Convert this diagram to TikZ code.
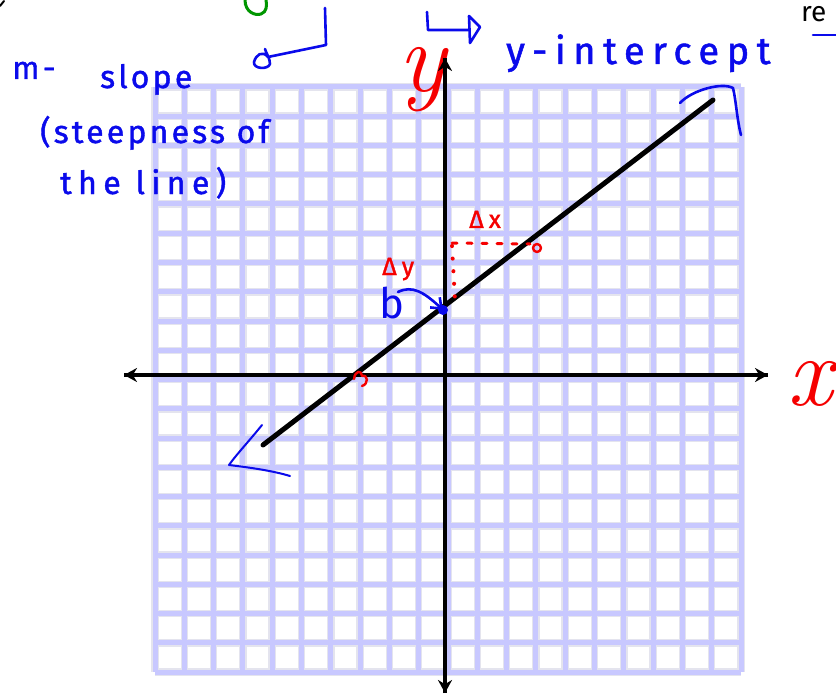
\documentclass[tikz,border=0pt]{standalone}
\usepackage{fontspec}
\newfontfamily\hand[LetterSpace=10,FakeBold=1.3]{Fira Sans}
\newfontfamily\handwide[LetterSpace=20,FakeBold=1.3]{Fira Sans}
\newfontfamily\plainsans{Fira Sans}
\usetikzlibrary{arrows.meta}
\definecolor{gridc}{RGB}{200,200,255}
\definecolor{gridedge}{RGB}{228,228,238}
\definecolor{bluepen}{RGB}{10,10,235}
\definecolor{redpen}{RGB}{245,0,0}
\definecolor{greenpen}{RGB}{0,150,0}
\tikzset{
  gridline/.style={draw=gridc,line width=5pt},
  gridshade/.style={draw=gridedge,line width=7.5pt},
  axis/.style={draw=black,line width=4pt,-{Stealth[length=13pt,width=14pt]}},
  mainline/.style={draw=black,line width=5pt,line cap=round},
  bstroke/.style={draw=bluepen,line width=2.6pt,line cap=round,line join=round},
  rstroke/.style={draw=redpen,line width=2.4pt,line cap=round,line join=round},
  gstroke/.style={draw=greenpen,line width=3pt,line cap=round},
  bluetext/.style={text=bluepen,inner sep=0pt,font=\hand\fontsize{32}{34}\selectfont},
  redtext/.style={text=redpen,inner sep=0pt,font=\handwide\fontsize{25}{27}\selectfont},
  bigred/.style={text=redpen,inner sep=0pt,font=\rmfamily\itshape\fontsize{100}{100}\selectfont},
}
\begin{document}
\begin{tikzpicture}[x=1pt,y=-1pt]
\useasboundingbox[fill=white] (0,0) rectangle (836,698);
% grid
\fill[white] (155,87) rectangle (741,672);
\foreach \i in {0,...,20}{
  \draw[gridshade] ({155+29.3*\i},87) -- ({155+29.3*\i},672);
  \draw[gridshade] (155,{87+29.25*\i}) -- (741,{87+29.25*\i});
}
\foreach \i in {0,...,20}{
  \draw[gridline] ({155+29.3*\i},87) -- ({155+29.3*\i},672);
  \draw[gridline] (155,{87+29.25*\i}) -- (741,{87+29.25*\i});
}
% axis labels (under the axes)
\node[bigred,anchor=base] (xlab) at (810,405) {x};
\node[bigred,anchor=base] (ylab) at (422,92) {y};
% axes
\coordinate (xl) at (124,375);
\coordinate (xr) at (768,375);
\coordinate (yt) at (445,58);
\coordinate (yb) at (445,693);
\draw[axis] (xl) -- (xr);
\draw[axis] (xr) -- (xl);
\draw[axis] (yb) -- (yt);
\draw[axis] (yt) -- (yb);
% the line
\coordinate (l1) at (263,445);
\coordinate (l2) at (713,100);
\draw[mainline] (l1) -- (l2);
% blue hand arrowheads at line ends
\draw[bstroke] (680,103) .. controls (692,90) and (722,82) .. (733,88) .. controls (736,100) and (737,120) .. (741,135);
\draw[bstroke,line width=2pt] (262,425) .. controls (250,440) and (236,455) .. (229,465) .. controls (245,467) and (270,470) .. (290,476);
% red dotted rise/run
\draw[rstroke,line width=4pt,dash pattern=on 0.1pt off 12.5pt] (452,246) -- (455,300);
\draw[rstroke,line width=3pt,dash pattern=on 5pt off 10pt] (452,243) -- (530,244);
\draw[rstroke] (537,248) circle (4);
% red x-intercept mark
\draw[rstroke] (354,379) .. controls (355,370) and (362,370) .. (362,376) .. controls (368,374) and (369,384) .. (362,386);
% labels Delta
\node[redtext,anchor=base west] (dx) at (469,228) {Δx};
\node[redtext,anchor=base west] (dy) at (382,275) {Δy};
% y-intercept point and b
\coordinate (bdot) at (443,310);
\fill[bluepen] (bdot) circle (5);
\node[text=bluepen,inner sep=0pt,anchor=base west,font=\plainsans\fontsize{42}{42}\selectfont] (b) at (379,318) {b};
\draw[bstroke,-{Straight Barb[length=9pt,width=14pt]}] (398,292) .. controls (412,285) and (424,292) .. (bdot);
% blue text
\node[bluetext,anchor=base west] (m) at (12,79) {m-};
\node[bluetext,anchor=base west] (slope) at (100,88) {slope};
\node[bluetext,anchor=base west] (steep) at (40,143) {(steepness of};
\node[bluetext,anchor=base west,font=\handwide\fontsize{32}{34}\selectfont] (theline) at (60,194) {the line)};
\node[bluetext,anchor=base west,font=\handwide\fontsize{38}{40}\selectfont] (yint) at (506,64) {y-intercept};
% hook arrow pointing to slope text
\draw[bstroke] (325,8) -- (326,45) -- (268,57) .. controls (262,50) and (256,55) .. (254,62) .. controls (253,69) and (268,70) .. (270,64) .. controls (270,58) and (266,53) .. (265,49);
% arrow pointing to y-intercept text
\draw[bstroke] (427,12) -- (428,30) -- (469,30);
\draw[bstroke] (469,16) -- (480,27) -- (470,43) -- cycle;
% green fragment
\draw[gstroke] (245,0) .. controls (245,12) and (255,16) .. (261,14) .. controls (267,12) and (267,5) .. (266,0);
% top right fragment
\node[text=black,inner sep=0pt,anchor=base west,font=\plainsans\fontsize{28}{28}\selectfont] (re) at (801,22) {re};
\draw[bstroke] (813,35) -- (838,35);
% top-left fragment
\draw[line width=2pt,line cap=round] (0,6) -- (4,1);
\end{tikzpicture}
\end{document}
